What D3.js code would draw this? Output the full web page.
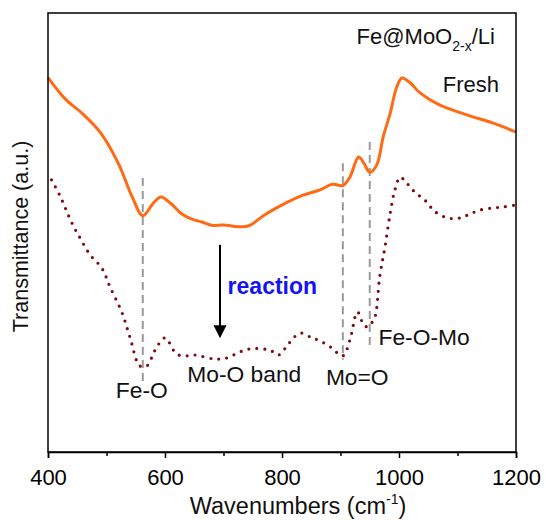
<!DOCTYPE html>
<html>
<head>
<meta charset="utf-8">
<script src="https://cdn.jsdelivr.net/npm/d3@7"></script>
<style>
  html, body { margin: 0; padding: 0; background: #fff; }
  svg { display: block; font-family: "Liberation Sans", Arial, sans-serif; }
</style>
</head>
<body>
<svg id="chart" width="546" height="520"></svg>
<script>
// ---- data ----
const freshWn = [400, 431, 458, 490, 520, 544, 562, 580, 593, 610, 627, 645, 663, 681, 699, 734, 746, 770, 806, 836, 865, 886, 904, 916, 931, 940, 950, 962, 973, 985, 996, 1005, 1019, 1036, 1070, 1116, 1161, 1200];
const freshT  = [0.853, 0.802, 0.772, 0.727, 0.658, 0.581, 0.538, 0.567, 0.581, 0.566, 0.544, 0.531, 0.524, 0.516, 0.517, 0.513, 0.517, 0.540, 0.567, 0.585, 0.597, 0.610, 0.607, 0.626, 0.672, 0.658, 0.637, 0.654, 0.718, 0.772, 0.831, 0.852, 0.841, 0.818, 0.790, 0.768, 0.749, 0.729];

const reactWn = [406, 420, 440, 455, 472, 492, 506, 526, 540, 557, 569, 583, 600, 620, 637, 651, 684, 705, 728, 746, 767, 782, 794, 806, 821, 833, 851, 862, 883, 904, 916, 929, 940, 947, 952, 959, 967, 976, 985, 993, 1002, 1013, 1027, 1044, 1062, 1084, 1104, 1121, 1138, 1161, 1178, 1200];
const reactT  = [0.620, 0.585, 0.524, 0.487, 0.449, 0.419, 0.376, 0.319, 0.262, 0.196, 0.196, 0.232, 0.260, 0.223, 0.219, 0.221, 0.212, 0.214, 0.228, 0.235, 0.235, 0.230, 0.221, 0.237, 0.262, 0.271, 0.260, 0.255, 0.239, 0.219, 0.255, 0.319, 0.289, 0.285, 0.292, 0.308, 0.399, 0.467, 0.544, 0.597, 0.626, 0.613, 0.592, 0.574, 0.547, 0.533, 0.533, 0.542, 0.551, 0.556, 0.558, 0.563];

const markerWn   = [562, 904, 950];
const markerTop  = [0.624, 0.658, 0.706];
const markerBot  = [0.162, 0.210, 0.244];

const xTicks      = [400, 600, 800, 1000, 1200];
const xMinorTicks = [500, 700, 900, 1100];

// ---- layout ----
const svg = d3.select("#chart");
const L = 48, R = 516, T = 13, B = 452;
const x = d3.scaleLinear().domain([400, 1200]).range([L, R]);
const y = d3.scaleLinear().domain([0, 1]).range([B, T]);

// dashed marker lines
svg.append("g").selectAll("line")
  .data(markerWn.map((w, i) => ({ w, t: markerTop[i], b: markerBot[i] })))
  .join("line")
  .attr("x1", d => x(d.w)).attr("x2", d => x(d.w))
  .attr("y1", d => y(d.t)).attr("y2", d => y(d.b))
  .attr("stroke", "#9a9a9a").attr("stroke-width", 2)
  .attr("stroke-dasharray", "8,5");

// curves
const line = d3.line().x(d => x(d[0])).y(d => y(d[1])).curve(d3.curveCatmullRom.alpha(0.5));
svg.append("path")
  .datum(freshWn.map((w, i) => [w, freshT[i]]))
  .attr("d", line)
  .attr("fill", "none").attr("stroke", "#ff6a14").attr("stroke-width", 3)
  .attr("stroke-linejoin", "round");

svg.append("path")
  .datum(reactWn.map((w, i) => [w, reactT[i]]))
  .attr("d", line)
  .attr("fill", "none").attr("stroke", "#7d0b0b").attr("stroke-width", 3.2)
  .attr("stroke-linecap", "round").attr("stroke-dasharray", "0,8");

// frame
svg.append("rect").attr("x", L).attr("y", T).attr("width", R - L).attr("height", B - T)
  .attr("fill", "none").attr("stroke", "#000").attr("stroke-width", 1.5);

// x axis
const xAxis = svg.append("g").attr("transform", `translate(0,${B})`)
  .call(d3.axisBottom(x).tickValues(xTicks).tickSize(6).tickPadding(11).tickFormat(d3.format("d")));
xAxis.select(".domain").attr("stroke-width", 1.5);
xAxis.selectAll(".tick line").attr("stroke-width", 1.5);
xAxis.selectAll(".tick text").attr("font-size", 22).attr("font-family", "Liberation Sans, Arial, sans-serif").attr("fill", "#000");
const xMinor = svg.append("g").attr("transform", `translate(0,${B})`)
  .call(d3.axisBottom(x).tickValues(xMinorTicks).tickSize(4).tickFormat(""));
xMinor.select(".domain").remove();
xMinor.selectAll(".tick line").attr("stroke-width", 1.5);

// axis titles
const xt = svg.append("text").attr("x", (L + R) / 2 + 16).attr("y", 514)
  .attr("text-anchor", "middle").attr("font-size", 23.5).attr("fill", "#111");
xt.append("tspan").text("Wavenumbers (cm");
xt.append("tspan").attr("font-size", 14).attr("dy", -10).text("-1");
xt.append("tspan").attr("dy", 10).text(")");

svg.append("text").attr("transform", `translate(28,${(T + B) / 2 + 4}) rotate(-90)`)
  .attr("text-anchor", "middle").attr("font-size", 21.5).attr("fill", "#111")
  .text("Transmittance (a.u.)");

// sample label
const st = svg.append("text").attr("x", x(1164)).attr("y", y(0.929))
  .attr("text-anchor", "end").attr("font-size", 22).attr("fill", "#111");
st.append("tspan").text("Fe@MoO");
st.append("tspan").attr("font-size", 14).attr("dy", 7).text("2-x");
st.append("tspan").attr("dy", -7).text("/Li");

svg.append("text").attr("x", x(1171)).attr("y", y(0.820))
  .attr("text-anchor", "end").attr("font-size", 22).attr("fill", "#111").text("Fresh");

// reaction arrow
const ax = x(694);
svg.append("line").attr("x1", ax).attr("x2", ax).attr("y1", y(0.472)).attr("y2", y(0.259) - 10)
  .attr("stroke", "#000").attr("stroke-width", 2);
svg.append("path")
  .attr("d", `M${ax - 6.5},${y(0.259) - 13} L${ax + 6.5},${y(0.259) - 13} L${ax},${y(0.259)} Z`)
  .attr("fill", "#000");
svg.append("text").attr("x", x(707)).attr("y", y(0.361))
  .attr("font-size", 23).attr("font-weight", "bold").attr("fill", "#1414f0").text("reaction");

// band labels
const ann = [
  { t: "Fe-O", w: 516, v: 0.124 },
  { t: "Mo-O band", w: 638, v: 0.160 },
  { t: "Mo=O", w: 875, v: 0.153 },
  { t: "Fe-O-Mo", w: 965, v: 0.244 }
];
svg.append("g").selectAll("text").data(ann).join("text")
  .attr("x", d => x(d.w)).attr("y", d => y(d.v))
  .attr("font-size", 22.8).attr("fill", "#111").text(d => d.t);
</script>
</body>
</html>
